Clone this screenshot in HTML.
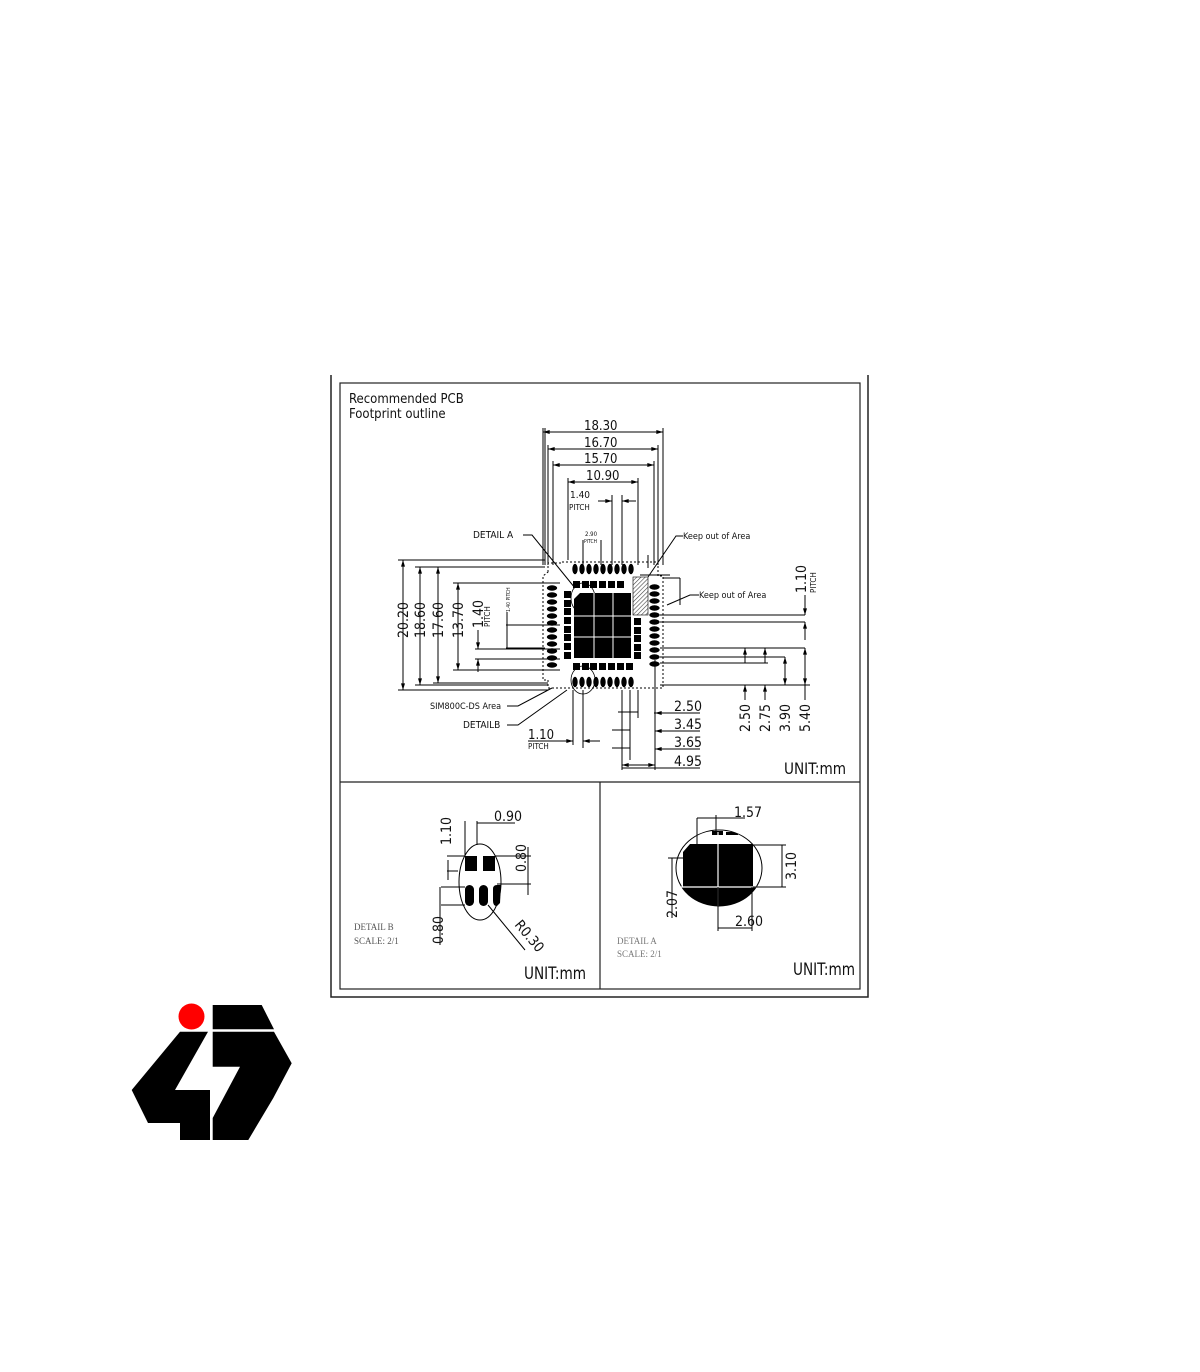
<!DOCTYPE html>
<html><head><meta charset="utf-8"><style>
html,body{margin:0;padding:0;background:#fff;}
svg{display:block;}
text{font-family:"DejaVu Sans Condensed","DejaVu Sans","Liberation Sans",sans-serif;fill:#111;}
.s{font-family:"Liberation Serif",serif;fill:#555;font-size:9px;}
</style></head><body>
<svg width="1200" height="1372" viewBox="0 0 1200 1372" xmlns="http://www.w3.org/2000/svg">
<defs>
<ellipse id="ov" cx="0" cy="0" rx="2.7" ry="5.2" fill="#000"/>
<ellipse id="oh" cx="0" cy="0" rx="5.2" ry="2.7" fill="#000"/>
<rect id="sq" x="0" y="0" width="7" height="7" fill="#000"/>
<pattern id="hatch" width="3" height="3" patternUnits="userSpaceOnUse" patternTransform="rotate(45)">
<rect width="3" height="3" fill="#fff"/><line x1="0" y1="0" x2="0" y2="3" stroke="#444" stroke-width="1.2"/></pattern>
<marker id="ar" viewBox="0 0 10 6" refX="10" refY="3" markerWidth="8" markerHeight="4" orient="auto-start-reverse"><path d="M0,0 L10,3 L0,6 Z" fill="#000"/></marker>
</defs>

<path d="M331,375 L331,997 L868,997 L868,375" fill="none" stroke="#222" stroke-width="1.5"/>
<rect x="340" y="383" width="520" height="606" fill="none" stroke="#222" stroke-width="1.2"/>
<line x1="340" y1="782" x2="860" y2="782" stroke="#222" stroke-width="1.2"/>
<line x1="600" y1="782" x2="600" y2="989" stroke="#222" stroke-width="1.2"/>

<text x="349" y="403" font-size="13">Recommended PCB</text>
<text x="349" y="418" font-size="13">Footprint outline</text>

<g stroke="#000" stroke-width="1" fill="none">
<line x1="543" y1="432" x2="663" y2="432" marker-start="url(#ar)" marker-end="url(#ar)"/>
<line x1="548" y1="449" x2="658" y2="449" marker-start="url(#ar)" marker-end="url(#ar)"/>
<line x1="553" y1="465" x2="654" y2="465" marker-start="url(#ar)" marker-end="url(#ar)"/>
<line x1="568" y1="482" x2="638" y2="482" marker-start="url(#ar)" marker-end="url(#ar)"/>
<line x1="543" y1="428" x2="543" y2="565"/><line x1="545" y1="428" x2="545" y2="565"/>
<line x1="548" y1="445" x2="548" y2="565"/><line x1="553" y1="461" x2="553" y2="565"/>
<line x1="663" y1="428" x2="663" y2="565"/><line x1="658" y1="445" x2="658" y2="565"/>
<line x1="654" y1="461" x2="654" y2="565"/><line x1="638" y1="478" x2="638" y2="565"/>
<line x1="568" y1="478" x2="568" y2="560"/>
<line x1="612" y1="495" x2="612" y2="565"/><line x1="622" y1="495" x2="622" y2="565"/>
<line x1="598" y1="501" x2="612" y2="501" marker-end="url(#ar)"/>
<line x1="636" y1="501" x2="622" y2="501" marker-end="url(#ar)"/>
<line x1="583" y1="540" x2="583" y2="565"/><line x1="601" y1="540" x2="601" y2="565"/>
<line x1="403" y1="560" x2="403" y2="690" marker-start="url(#ar)" marker-end="url(#ar)"/>
<line x1="420" y1="567" x2="420" y2="685" marker-start="url(#ar)" marker-end="url(#ar)"/>
<line x1="438" y1="567" x2="438" y2="683" marker-start="url(#ar)" marker-end="url(#ar)"/>
<line x1="458" y1="583" x2="458" y2="670" marker-start="url(#ar)" marker-end="url(#ar)"/>
<line x1="398" y1="560" x2="545" y2="560"/>
<line x1="398" y1="690" x2="548" y2="690"/>
<line x1="415" y1="567" x2="545" y2="567"/>
<line x1="415" y1="685" x2="548" y2="685"/>
<line x1="433" y1="683" x2="548" y2="683"/>
<line x1="453" y1="583" x2="560" y2="583"/>
<line x1="453" y1="670" x2="560" y2="670"/>
<line x1="478" y1="630" x2="478" y2="649" marker-end="url(#ar)"/>
<line x1="478" y1="672" x2="478" y2="659" marker-end="url(#ar)"/>
<line x1="475" y1="649" x2="560" y2="649"/><line x1="475" y1="659" x2="560" y2="659"/>
<line x1="506" y1="625" x2="560" y2="625"/><line x1="506" y1="648" x2="545" y2="648"/>
<line x1="507" y1="612" x2="507" y2="648"/>
<line x1="660" y1="615" x2="805" y2="615"/>
<line x1="660" y1="622" x2="805" y2="622"/>
<line x1="660" y1="648" x2="805" y2="648"/>
<line x1="660" y1="657" x2="785" y2="657"/>
<line x1="660" y1="663" x2="768" y2="663"/>
<line x1="660" y1="685" x2="810" y2="685"/>
<line x1="805" y1="595" x2="805" y2="615" marker-end="url(#ar)"/>
<line x1="805" y1="640" x2="805" y2="622" marker-end="url(#ar)"/>
<line x1="805" y1="648" x2="805" y2="685" marker-start="url(#ar)" marker-end="url(#ar)"/>
<line x1="745" y1="648" x2="745" y2="663" marker-start="url(#ar)"/>
<line x1="745" y1="685" x2="745" y2="700" marker-start="url(#ar)"/>
<line x1="765" y1="648" x2="765" y2="663" marker-start="url(#ar)"/>
<line x1="765" y1="685" x2="765" y2="700" marker-start="url(#ar)"/>
<line x1="785" y1="657" x2="785" y2="685" marker-start="url(#ar)" marker-end="url(#ar)"/>
<line x1="805" y1="685" x2="805" y2="700"/>
<line x1="655" y1="660" x2="655" y2="770"/>
<line x1="622" y1="690" x2="622" y2="770"/>
<line x1="630" y1="690" x2="630" y2="760"/>
<line x1="638" y1="690" x2="638" y2="718"/>
<line x1="654" y1="713" x2="700" y2="713"/><line x1="670" y1="713" x2="655" y2="713" marker-end="url(#ar)"/>
<line x1="655" y1="731" x2="700" y2="731"/><line x1="670" y1="731" x2="655" y2="731" marker-end="url(#ar)"/>
<line x1="655" y1="749" x2="700" y2="749"/><line x1="670" y1="749" x2="655" y2="749" marker-end="url(#ar)"/>
<line x1="622" y1="768" x2="700" y2="768"/>
<line x1="622" y1="765" x2="655" y2="765" marker-start="url(#ar)" marker-end="url(#ar)"/>
<line x1="612" y1="730" x2="630" y2="730"/><line x1="612" y1="748" x2="630" y2="748"/>
<line x1="618" y1="712" x2="638" y2="712"/>
<line x1="573" y1="690" x2="573" y2="745"/><line x1="583" y1="690" x2="583" y2="748"/>
<line x1="528" y1="741" x2="573" y2="741" marker-end="url(#ar)"/>
<line x1="600" y1="741" x2="583" y2="741" marker-end="url(#ar)"/>
<polyline points="523,535 532,535 575,588"/>
<polyline points="683,536 676,536 648,577"/>
<polyline points="699,595 690,595 667,605"/>
<polyline points="507,706 518,706 552,688"/>
<polyline points="507,725 518,725 567,690"/>
<path d="M548,572 L548,563 L562,563 L562,562 L658,562 L658,576 L663,576 L663,688 L658,688 L558,688 L548,688 L548,680 L543,680 L543,576 Z" stroke-dasharray="2,2"/>
<ellipse cx="583" cy="598" rx="12" ry="15" stroke-width="0.8"/>
<ellipse cx="583" cy="680" rx="12" ry="14" stroke-width="0.8"/>
<line x1="640" y1="575" x2="670" y2="575"/><line x1="663" y1="578" x2="680" y2="578"/>
<line x1="680" y1="578" x2="680" y2="605"/><line x1="648" y1="568" x2="648" y2="555"/>
</g>

<g>
<use href="#ov" x="575" y="569"/><use href="#ov" x="582" y="569"/><use href="#ov" x="589" y="569"/><use href="#ov" x="596" y="569"/><use href="#ov" x="603" y="569"/><use href="#ov" x="610" y="569"/><use href="#ov" x="617" y="569"/><use href="#ov" x="624" y="569"/><use href="#ov" x="631" y="569"/>
<use href="#sq" x="573" y="581"/><use href="#sq" x="582" y="581"/><use href="#sq" x="590" y="581"/><use href="#sq" x="599" y="581"/><use href="#sq" x="608" y="581"/><use href="#sq" x="617" y="581"/>
<use href="#oh" x="552" y="588"/><use href="#oh" x="552" y="595"/><use href="#oh" x="552" y="602"/><use href="#oh" x="552" y="609"/><use href="#oh" x="552" y="616"/><use href="#oh" x="552" y="623"/><use href="#oh" x="552" y="630"/><use href="#oh" x="552" y="637"/><use href="#oh" x="552" y="644"/><use href="#oh" x="552" y="651"/><use href="#oh" x="552" y="658"/><use href="#oh" x="552" y="665"/>
<use href="#sq" x="564" y="591"/><use href="#sq" x="564" y="600"/><use href="#sq" x="564" y="608"/><use href="#sq" x="564" y="617"/><use href="#sq" x="564" y="626"/><use href="#sq" x="564" y="634"/><use href="#sq" x="564" y="643"/><use href="#sq" x="564" y="652"/>
<use href="#oh" x="654.5" y="587"/><use href="#oh" x="654.5" y="594"/><use href="#oh" x="654.5" y="601"/><use href="#oh" x="654.5" y="608"/><use href="#oh" x="654.5" y="615"/><use href="#oh" x="654.5" y="622"/><use href="#oh" x="654.5" y="629"/><use href="#oh" x="654.5" y="636"/><use href="#oh" x="654.5" y="643"/><use href="#oh" x="654.5" y="650"/><use href="#oh" x="654.5" y="657"/><use href="#oh" x="654.5" y="664"/>
<use href="#sq" x="634" y="618"/><use href="#sq" x="634" y="627"/><use href="#sq" x="634" y="635"/><use href="#sq" x="634" y="644"/><use href="#sq" x="634" y="652"/>
<use href="#sq" x="573" y="663"/><use href="#sq" x="582" y="663"/><use href="#sq" x="590" y="663"/><use href="#sq" x="599" y="663"/><use href="#sq" x="608" y="663"/><use href="#sq" x="617" y="663"/><use href="#sq" x="626" y="663"/>
<use href="#ov" x="575" y="682"/><use href="#ov" x="582" y="682"/><use href="#ov" x="589" y="682"/><use href="#ov" x="596" y="682"/><use href="#ov" x="603" y="682"/><use href="#ov" x="610" y="682"/><use href="#ov" x="617" y="682"/><use href="#ov" x="624" y="682"/><use href="#ov" x="631" y="682"/>
<path d="M580,593 L631,593 L631,658 L574,658 L574,599 Z" fill="#000"/>
<g stroke="#fff" stroke-width="1"><line x1="594" y1="593" x2="594" y2="658"/><line x1="613" y1="593" x2="613" y2="658"/><line x1="574" y1="616" x2="631" y2="616"/><line x1="574" y1="637" x2="631" y2="637"/></g>
<rect x="633" y="577" width="15" height="38" fill="url(#hatch)" stroke="#000" stroke-width="0.6"/>
</g>

<text x="584" y="430" font-size="13">18.30</text>
<text x="584" y="447" font-size="13">16.70</text>
<text x="584" y="463" font-size="13">15.70</text>
<text x="586" y="480" font-size="13">10.90</text>
<text x="570" y="498" font-size="10">1.40</text>
<text x="569" y="510" font-size="8">PITCH</text>
<text x="473" y="538" font-size="10">DETAIL A</text>
<text x="585" y="536" font-size="6">2.90</text>
<text x="584" y="543" font-size="5">PITCH</text>
<text x="683" y="539" font-size="9">Keep out of Area</text>
<text x="699" y="598" font-size="9">Keep out of Area</text>
<text x="430" y="709" font-size="9">SIM800C-DS Area</text>
<text x="463" y="728" font-size="10">DETAILB</text>
<text x="528" y="739" font-size="13">1.10</text>
<text x="528" y="749" font-size="8">PITCH</text>
<text x="674" y="711" font-size="14">2.50</text>
<text x="674" y="729" font-size="14">3.45</text>
<text x="674" y="747" font-size="14">3.65</text>
<text x="674" y="766" font-size="14">4.95</text>
<text x="784" y="774" font-size="16" textLength="62" lengthAdjust="spacingAndGlyphs">UNIT:mm</text>
<g font-size="14">
<text transform="translate(408,638) rotate(-90)">20.20</text>
<text transform="translate(425,638) rotate(-90)">18.60</text>
<text transform="translate(443,638) rotate(-90)">17.60</text>
<text transform="translate(463,638) rotate(-90)">13.70</text>
<text transform="translate(483,628) rotate(-90)">1.40</text>
<text transform="translate(750,732) rotate(-90)">2.50</text>
<text transform="translate(770,732) rotate(-90)">2.75</text>
<text transform="translate(790,732) rotate(-90)">3.90</text>
<text transform="translate(810,732) rotate(-90)">5.40</text>
<text transform="translate(806,593) rotate(-90)">1.10</text>
</g>
<text transform="translate(490,627) rotate(-90)" font-size="8">PITCH</text>
<text transform="translate(816,593) rotate(-90)" font-size="8">PITCH</text>
<text transform="translate(510,612) rotate(-90)" font-size="5">1.40 PITCH</text>

<g stroke="#000" stroke-width="1" fill="none">
<ellipse cx="480" cy="882" rx="21" ry="38"/>
<line x1="465" y1="821" x2="465" y2="856"/><line x1="477" y1="821" x2="477" y2="845"/>
<line x1="477" y1="823" x2="515" y2="823"/>
<line x1="447" y1="856" x2="465" y2="856"/><line x1="447" y1="871" x2="458" y2="871"/>
<line x1="441" y1="887" x2="465" y2="887"/><line x1="441" y1="905" x2="465" y2="905"/>
<line x1="440" y1="887" x2="440" y2="945"/><line x1="448" y1="860" x2="448" y2="880"/>
<line x1="497" y1="884" x2="531" y2="884"/><line x1="495" y1="856" x2="531" y2="856"/>
<line x1="528" y1="847" x2="528" y2="895"/>
<line x1="488" y1="905" x2="525" y2="950"/>
</g>
<rect x="465" y="856" width="12" height="15" fill="#000"/>
<rect x="483" y="856" width="12" height="15" fill="#000"/>
<rect x="465" y="885" width="9" height="21" rx="4.5" fill="#000"/>
<rect x="479" y="885" width="9" height="21" rx="4.5" fill="#000"/>
<path d="M497,885 L501,885 L500,903 L497,906 Q493,906 493,901 L493,889 Q493,885 497,885Z" fill="#000"/>
<text x="494" y="821" font-size="14">0.90</text>
<text transform="translate(451,845) rotate(-90)" font-size="14">1.10</text>
<text transform="translate(526,872) rotate(-90)" font-size="14">0.80</text>
<text transform="translate(443,944) rotate(-90)" font-size="14">0.80</text>
<text transform="translate(514,925) rotate(50)" font-size="14">R0.30</text>
<text class="s" x="354" y="930">DETAIL B</text>
<text class="s" x="354" y="944">SCALE: 2/1</text>
<text x="524" y="979" font-size="17" textLength="62" lengthAdjust="spacingAndGlyphs">UNIT:mm</text>

<defs><clipPath id="ca"><ellipse cx="719" cy="868" rx="43" ry="38"/></clipPath></defs>
<g clip-path="url(#ca)">
<path d="M690,844 L753,844 L753,887 L800,887 L800,920 L640,920 L640,887 L683,887 L683,852 Z" fill="#000"/>
<rect x="712" y="831" width="11" height="4" fill="#000"/>
<rect x="726" y="832" width="12" height="3" fill="#000"/>
</g>
<ellipse cx="719" cy="868" rx="43" ry="38" fill="none" stroke="#000" stroke-width="1"/>
<g stroke="#fff" stroke-width="1.2"><line x1="718" y1="832" x2="718" y2="906"/><line x1="676" y1="887" x2="762" y2="887"/></g>
<g stroke="#000" stroke-width="1" fill="none">
<line x1="697" y1="818" x2="745" y2="818"/><line x1="697" y1="818" x2="697" y2="845"/><line x1="716" y1="815" x2="716" y2="835"/>
<line x1="753" y1="845" x2="786" y2="845"/><line x1="753" y1="887" x2="786" y2="887"/><line x1="782" y1="845" x2="782" y2="887"/>
<line x1="668" y1="858" x2="690" y2="858"/><line x1="672" y1="858" x2="672" y2="918"/>
<line x1="718" y1="887" x2="718" y2="931"/><line x1="752" y1="887" x2="752" y2="931"/><line x1="718" y1="928" x2="752" y2="928"/>
</g>
<text x="734" y="817" font-size="14">1.57</text>
<text transform="translate(796,880) rotate(-90)" font-size="14">3.10</text>
<text transform="translate(677,918) rotate(-90)" font-size="14">2.07</text>
<text x="735" y="926" font-size="14">2.60</text>
<text class="s" x="617" y="944" style="fill:#777">DETAIL A</text>
<text class="s" x="617" y="957" style="fill:#777">SCALE: 2/1</text>
<text x="793" y="975" font-size="17" textLength="62" lengthAdjust="spacingAndGlyphs">UNIT:mm</text>

<circle cx="191.5" cy="1016.5" r="13" fill="#f00"/>
<polygon points="212.7,1005 261.7,1005 274,1029.3 212.7,1029.3" fill="#000"/>
<polygon points="180,1031.7 208,1031.7 175,1090 210,1090 210,1140 180,1140 180,1123 148,1123 131.7,1090" fill="#000"/>
<polygon points="212.7,1031.7 274,1031.7 291.7,1063.3 273.3,1098 248.3,1140 212.7,1140 212.7,1118 240,1066.7 212.7,1066.7" fill="#000"/>
</svg>
</body></html>
